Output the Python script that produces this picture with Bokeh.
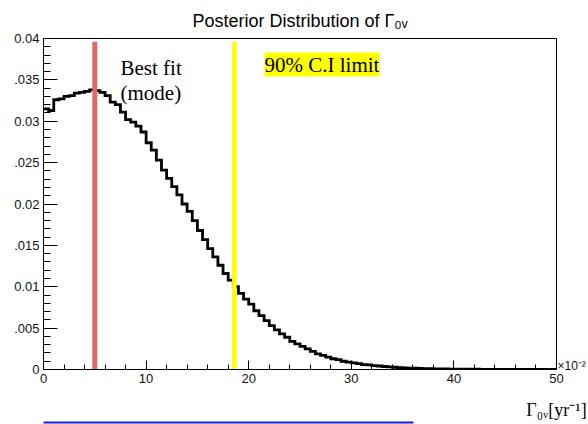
from bokeh.plotting import figure
from bokeh.models import Range1d, FixedTicker, Label, LinearAxis
from bokeh.embed import file_html
from bokeh.resources import INLINE

# ---------------- data ----------------
bin_width = 0.5
posterior = [
    0.0315, 0.0313, 0.0326, 0.0327, 0.0330, 0.0331, 0.0334, 0.0335, 0.0336, 0.0338,
    0.0337, 0.0335, 0.0331, 0.0323, 0.0320, 0.0311, 0.0302, 0.0299, 0.0294, 0.0287,
    0.0274, 0.0265, 0.0253, 0.0241, 0.0231, 0.0221, 0.0211, 0.0200, 0.0191, 0.0180,
    0.0168, 0.0157, 0.0146, 0.0136, 0.0126, 0.0116, 0.0108, 0.0100, 0.0092, 0.0085,
    0.0079, 0.0071, 0.0065, 0.0059, 0.0053, 0.0048, 0.0043, 0.0039, 0.0034, 0.0031,
    0.0028, 0.0025, 0.0022, 0.0019, 0.0017, 0.0015, 0.0013, 0.0012, 0.0010, 0.0009,
    0.0008, 0.0007, 0.0006, 0.00055, 0.00048, 0.00042, 0.00036, 0.00031, 0.00027, 0.00023,
    0.00020, 0.00017, 0.00015, 0.00012, 0.00010, 0.00009, 0.00008, 0.00007, 0.00006, 0.00005,
    0.00004, 0.00004, 0.00003, 0.00003, 0.00003, 0.00002, 0.00002, 0.00002, 0.00002, 0.00001,
    0.00001, 0.00001, 0.00001, 0.00001, 0.00001, 0.00001, 0.00001, 0.00001, 0.00001, 0.00001,
]
best_fit = 5.0
ci_limit = 18.6
marker_top = 0.0396

x_ticks = [0, 10, 20, 30, 40, 50]
y_ticks = [0.0, 0.005, 0.01, 0.015, 0.02, 0.025, 0.03, 0.035, 0.04]
y_tick_labels = ["0", ".005", "0.01", ".015", "0.02", ".025", "0.03", ".035", "0.04"]
title_text = "Posterior Distribution of Γ₀ᵥ"
x_title = "Γ₀ᵥ[yr⁻¹]"
x_exponent = "×10⁻²"

# ---------------- figure ----------------
W, H = 588, 424
L, R, T, B = 43, 32, 38, 55
X0, X1, Y0, Y1 = 0, 50, 0, 0.04

p = figure(width=W, height=H, x_range=Range1d(X0, X1), y_range=Range1d(Y0, Y1),
           output_backend="svg", toolbar_location=None,
           min_border_left=L, min_border_right=R, min_border_top=T, min_border_bottom=B)
p.grid.visible = False
p.background_fill_color = "white"
p.border_fill_color = "white"
p.outline_line_color = "black"
p.outline_line_width = 1

p.title.text = title_text
p.title.align = "center"
p.title.text_font = "Liberation Sans"
p.title.text_font_size = "18px"
p.title.text_font_style = "normal"
p.title.text_color = "black"
p.title.standoff = 15

edges = [i * bin_width for i in range(len(posterior) + 1)]
p.step(x=edges, y=posterior + [posterior[-1]], mode="after",
       line_color="black", line_width=2.8, line_join="miter")

p.segment(x0=[best_fit], y0=[0], x1=[best_fit], y1=[marker_top],
          line_color="#e06868", line_width=5)
p.segment(x0=[ci_limit], y0=[0], x1=[ci_limit], y1=[marker_top],
          line_color="#ffff00", line_width=4.5)

# ---------------- axes ----------------
xa = p.xaxis[0]
xa.ticker = FixedTicker(ticks=x_ticks, minor_ticks=[v for v in range(0, 51, 2) if v % 10])
xa.major_tick_in = 9
xa.major_tick_out = 0
xa.minor_tick_in = 5
xa.minor_tick_out = 0
xa.major_label_standoff = 4
xa.major_label_text_font = "Liberation Sans"
xa.major_label_text_font_size = "13px"
xa.major_label_text_color = "#111111"
xa.axis_line_color = "black"
xa.major_tick_line_color = "black"
xa.minor_tick_line_color = "black"
xa.axis_label = x_title
xa.axis_label_text_font = "Liberation Serif"
xa.axis_label_text_font_size = "18px"
xa.axis_label_text_font_style = "normal"
xa.axis_label_text_color = "black"
xa.axis_label_standoff = 14
if hasattr(xa, "axis_label_align"):
    xa.axis_label_align = "end"
xa.axis_label_text_align = "right"

ya = p.yaxis[0]
ya.ticker = FixedTicker(ticks=y_ticks, minor_ticks=[i * 0.001 for i in range(41) if i % 5])
ya.major_label_overrides = {t: s for t, s in zip(y_ticks, y_tick_labels)}
ya.major_tick_in = 14
ya.major_tick_out = 0
ya.minor_tick_in = 7
ya.minor_tick_out = 0
ya.major_label_standoff = 4
ya.major_label_text_font = "Liberation Sans"
ya.major_label_text_font_size = "13px"
ya.major_label_text_color = "#111111"
ya.axis_line_color = "black"
ya.major_tick_line_color = "black"
ya.minor_tick_line_color = "black"

# exponent marker of the x axis, shown at the right end of the axis
exp_pos = 0.0004
ra = LinearAxis(ticker=FixedTicker(ticks=[exp_pos], minor_ticks=[]),
                major_label_overrides={exp_pos: x_exponent},
                axis_line_color=None, major_tick_line_color=None, minor_tick_line_color=None,
                major_tick_in=0, major_tick_out=0, minor_tick_in=0, minor_tick_out=0,
                major_label_standoff=1, major_label_text_font="Liberation Sans",
                major_label_text_font_size="12px", major_label_text_color="#111111")
p.add_layout(ra, "right")


# decorative blue rule below the chart (an axis line with no ticks)
def px2x(px):
    return X0 + (px - L) * (X1 - X0) / (W - L - R)


ba = LinearAxis(ticker=FixedTicker(ticks=[], minor_ticks=[]),
                bounds=(px2x(-3), px2x(413)),
                axis_line_color="#1a1aff", axis_line_width=2.2,
                major_tick_out=0, major_tick_in=0, minor_tick_out=0, minor_tick_in=0,
                major_label_standoff=0, major_label_text_font_size="1px")
p.add_layout(ba, "below")


def add_text(text, px, py, font, size, baseline="alphabetic", bg=None):
    """Place text at canvas pixel (px, py), anchored to the frame's top-left corner."""
    lab = Label(x=X0, y=Y1, x_offset=px - L, y_offset=T - py, text=text,
                text_font=font, text_font_size=size, text_color="black",
                text_baseline=baseline, text_align="left")
    if bg:
        lab.background_fill_color = bg
    p.add_layout(lab)


SERIF = "Liberation Serif"
add_text("Best fit", 120, 67, SERIF, "21px")
add_text("(mode)", 120, 92, SERIF, "21px")
add_text("90% C.I limit", 264, 64, SERIF, "21px", baseline="middle", bg="#ffff00")

open("out.html", "w").write(file_html(p, INLINE))
